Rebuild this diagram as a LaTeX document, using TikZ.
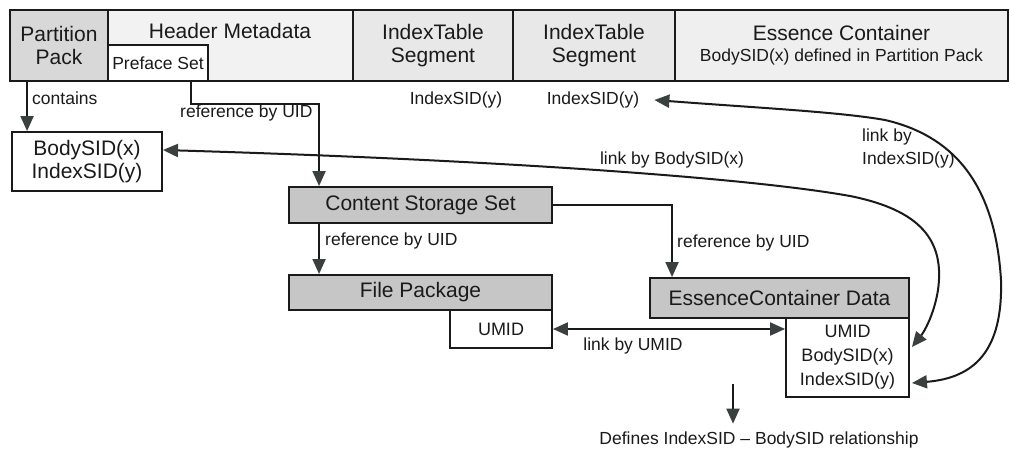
\documentclass[tikz,border=0pt]{standalone}
\usepackage{fontspec}
\setmainfont{Liberation Sans}
\usetikzlibrary{arrows.meta}

\newcommand\fbig{\fontsize{21}{23}\selectfont}
\newcommand\fmid{\fontsize{18}{24}\selectfont}
\newcommand\fsmall{\fontsize{17.5}{23}\selectfont}

\definecolor{ink}{HTML}{1A1A1A}
\definecolor{head}{HTML}{3A3F3F}
\definecolor{ppfill}{HTML}{D8D8D8}
\definecolor{hmfill}{HTML}{F2F2F2}
\definecolor{itfill}{HTML}{E8E8E8}
\definecolor{ecfill}{HTML}{EFEFEF}
\definecolor{setfill}{HTML}{C6C6C6}

\tikzset{
  box/.style={draw=ink, line width=1.9pt, inner sep=0pt, align=center, text=ink},
  lbl/.style={inner sep=0pt, text=ink, font=\fsmall},
  conn/.style={draw=ink, line width=2pt, -{Triangle[length=15pt,width=13pt,color=head]}},
  both/.style={draw=ink, line width=2pt, {Triangle[length=15pt,width=13pt,color=head]}-{Triangle[length=15pt,width=13pt,color=head]}}
}

\begin{document}
\begin{tikzpicture}[x=1pt,y=-1pt]
\useasboundingbox (0,0) rectangle (1010,452);

% partition layout strip
\node[box, fill=ppfill, font=\fbig, minimum width=98pt, minimum height=71pt] (pp) at (59,45.5) {Partition\\Pack};
\node[box, fill=hmfill, minimum width=245pt, minimum height=71pt] (hm) at (230.5,45.5) {};
\node[lbl, font=\fbig] (hmt) at (230,31) {Header Metadata};
\node[box, fill=white, font=\fsmall, minimum width=100pt, minimum height=36pt] (ps) at (158,63) {Preface Set};
\node[box, fill=itfill, font=\fbig, minimum width=160pt, minimum height=71pt] (it1) at (433,45.5) {IndexTable\\Segment};
\node[box, fill=itfill, font=\fbig, minimum width=162pt, minimum height=71pt] (it2) at (594,45.5) {IndexTable\\Segment};
\node[box, fill=ecfill, font=\fbig, minimum width=333pt, minimum height=71pt] (ec) at (841.5,45.5)
  {Essence Container\\[-2pt]{\fsmall BodySID(x) defined in Partition Pack}};

% SID box under the partition pack
\node[box, fill=white, font=\fbig, minimum width=150pt, minimum height=59pt] (bs) at (87,161.5) {BodySID(x)\\IndexSID(y)};

% header metadata sets
\node[box, fill=setfill, font=\fbig, minimum width=263pt, minimum height=36pt] (css) at (420.5,205) {Content Storage Set};
\node[box, fill=setfill, font=\fbig, minimum width=263pt, minimum height=35pt] (fp) at (420.5,292.5) {File Package};
\node[box, fill=white, font=\fmid, minimum width=102pt, minimum height=38pt] (um1) at (501,329) {UMID};
\node[box, fill=setfill, font=\fbig, minimum width=259pt, minimum height=40pt] (ecd) at (779.5,298) {EssenceContainer Data};
\node[box, fill=white, font=\fmid, minimum width=123pt, minimum height=79pt] (um2) at (847.5,357.5) {UMID\\BodySID(x)\\IndexSID(y)};

% labels
\node[lbl, anchor=west] (lcont) at (32,98) {contains};
\node[lbl, anchor=west] (lref1) at (180,113) {reference by UID};
\node[lbl] (ix1) at (456,100) {IndexSID(y)};
\node[lbl] (ix2) at (593,100) {IndexSID(y)};
\node[lbl] (lbody) at (672,160) {link by BodySID(x)};
\node[lbl, anchor=west, align=left] (lidx) at (862,148) {link by\\IndexSID(y)};
\node[lbl, anchor=west] (lref2) at (325,241) {reference by UID};
\node[lbl, anchor=west] (lref3) at (677,243) {reference by UID};
\node[lbl] (lumid) at (633,346) {link by UMID};
\node[lbl] (def) at (759,440) {Defines IndexSID – BodySID relationship};
\coordinate (dtop) at (733,384);

% connectors
\draw[conn] ([xshift=18pt]pp.south west) -- ([xshift=16pt]bs.north west);
\draw[conn] ([xshift=-18pt]ps.south east) -- ++(0,22) -| ([xshift=31pt]css.north west);
\draw[conn] ([xshift=31pt]css.south west) -- ([xshift=31pt]fp.north west);
\draw[conn] (css.east) -| ([xshift=23pt]ecd.north west);
\draw[both] (um1.east) -- (um1.east -| um2.west);
\draw[both] ([yshift=11.5pt]bs.east)
  .. controls (500,160) and (750,178) .. (850,196)
  .. controls (920,210) and (945,240) .. (938,290)
  .. controls (934,315) and (924,332) .. ([xshift=2pt,yshift=10.5pt]um2.east);
\draw[both] ([xshift=15pt]ix2.east)
  .. controls (760,108) and (840,112) .. (885,120)
  .. controls (950,135) and (995,180) .. (1001,280)
  .. controls (1003,350) and (975,378) .. ([xshift=2pt,yshift=-25.5pt]um2.east);
\draw[conn, shorten >=8pt] (dtop) -- (dtop |- def.north);
\end{tikzpicture}
\end{document}
